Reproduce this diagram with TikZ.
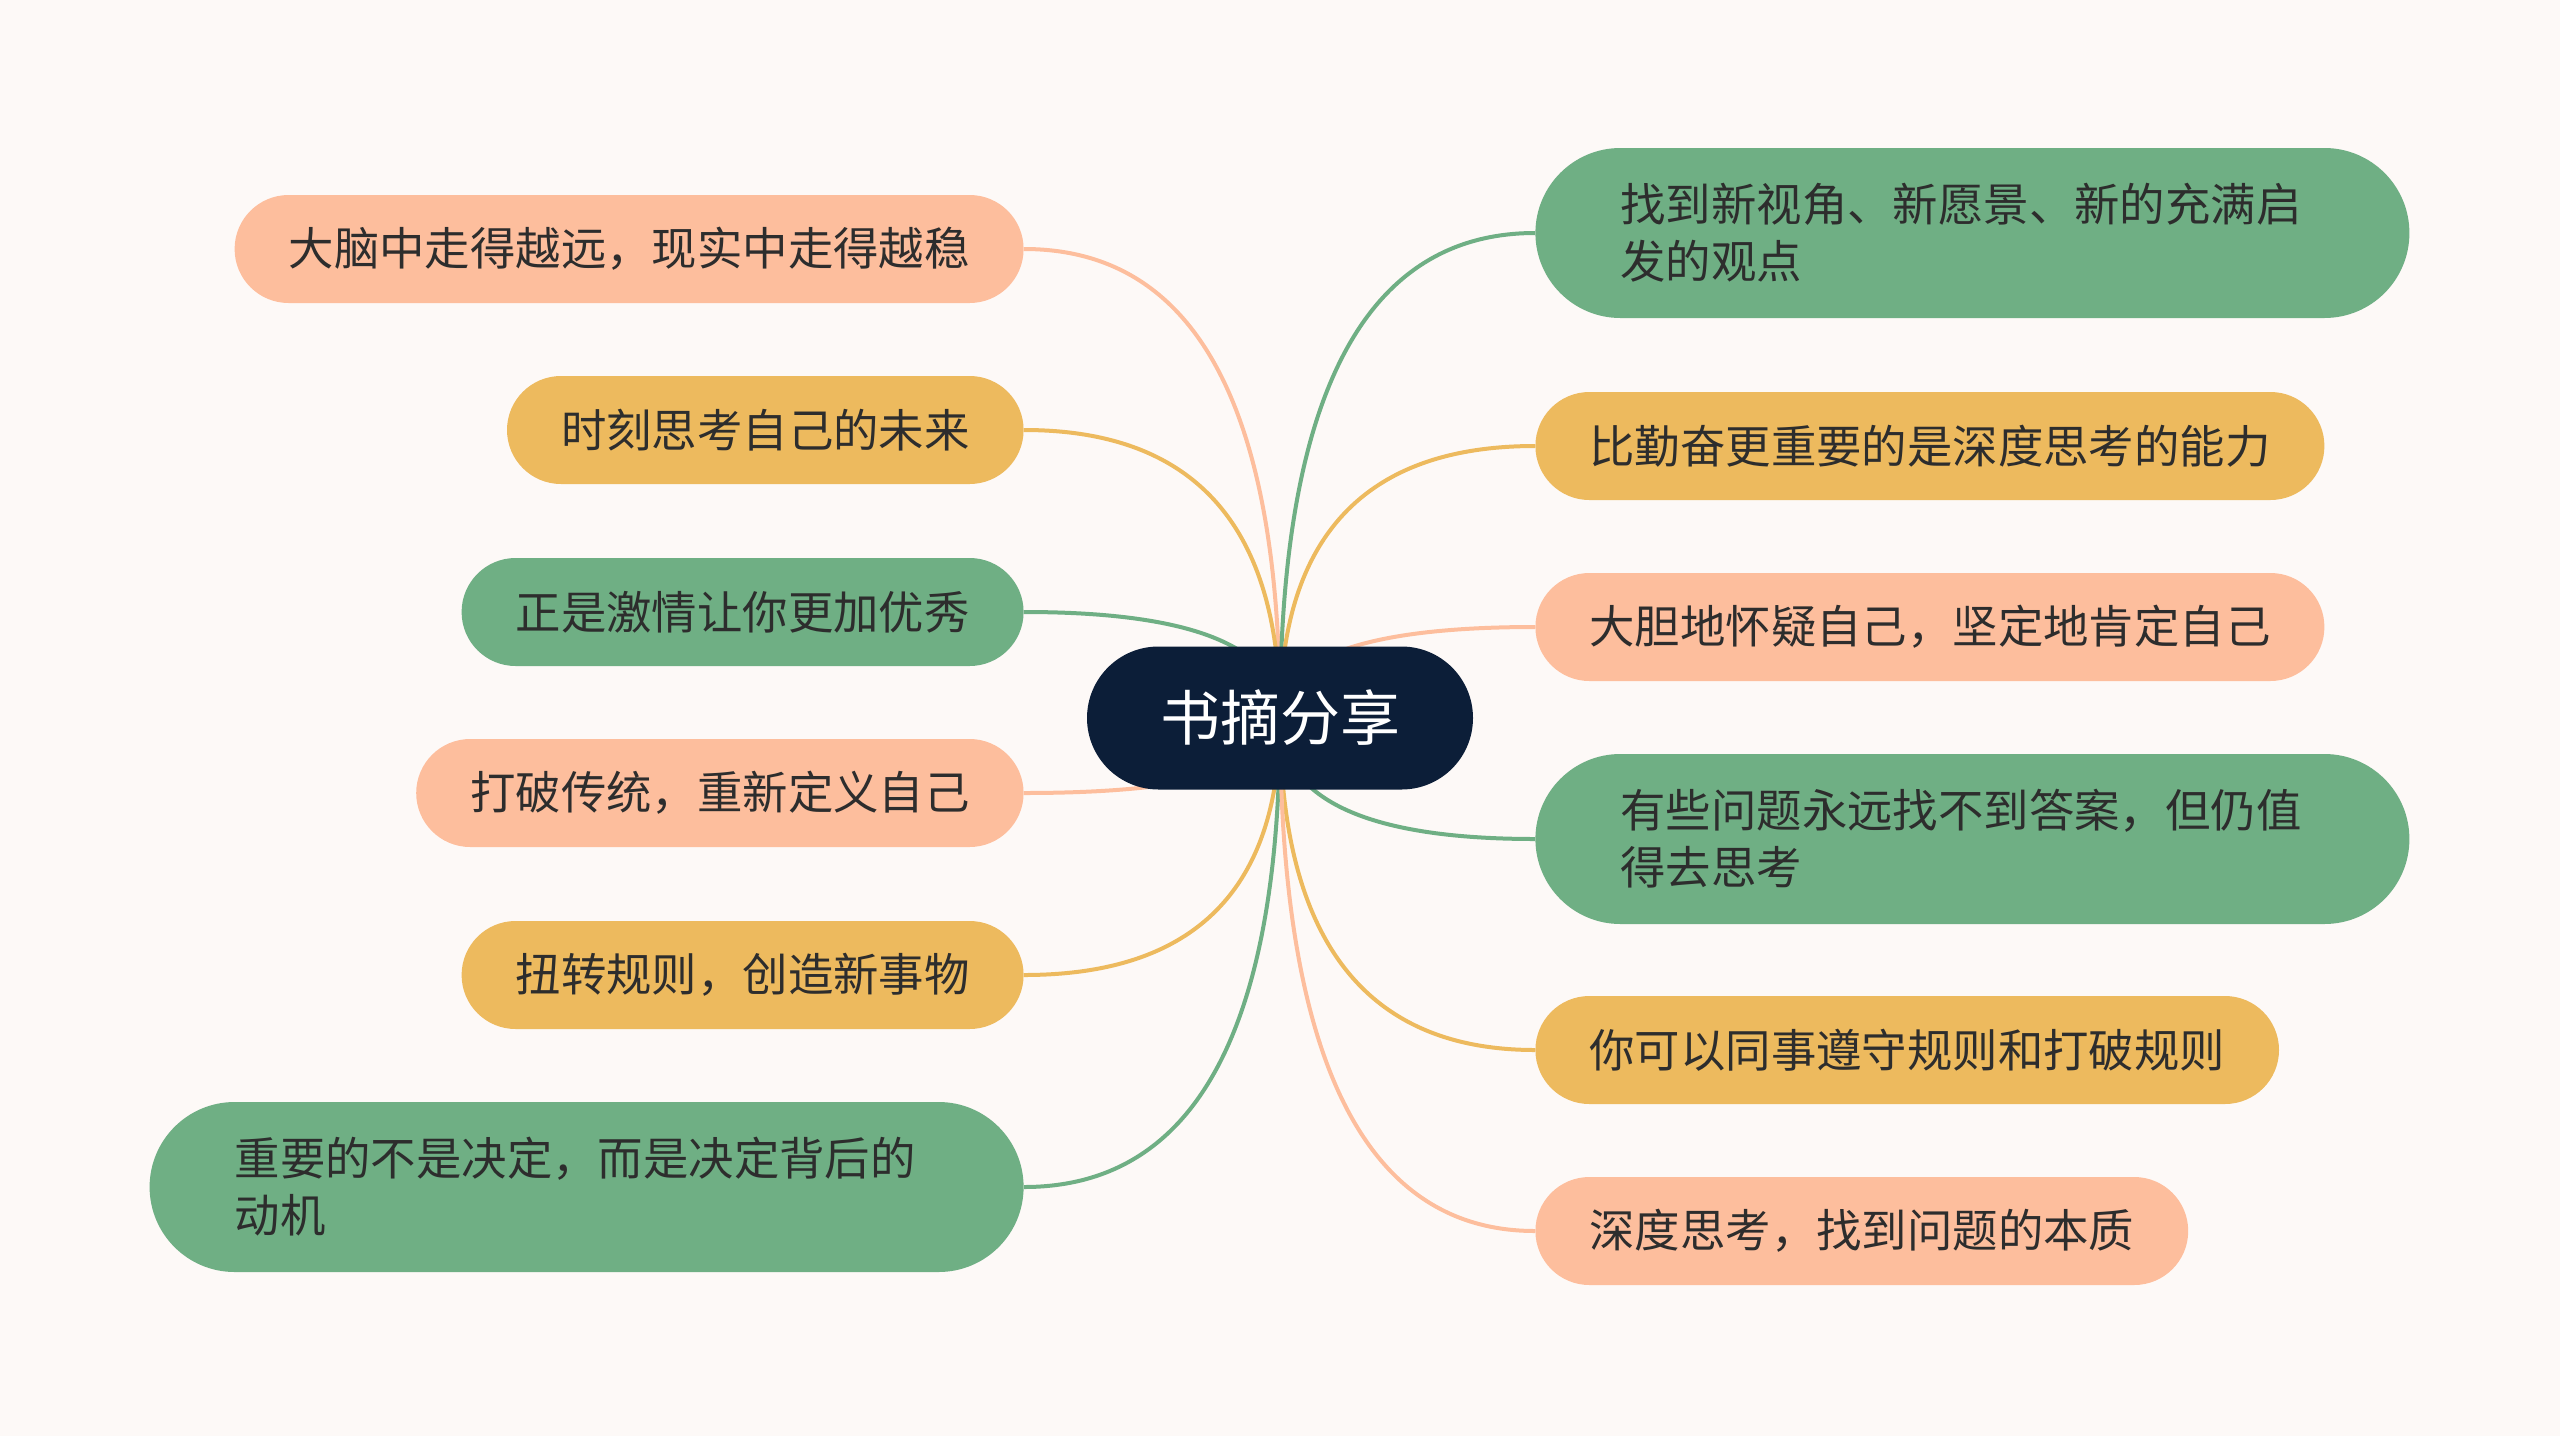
\documentclass[tikz,border=0pt]{standalone}
\usepackage{fontspec}
\setmainfont{Noto Sans CJK SC}
\usetikzlibrary{calc}
\definecolor{bgc}{HTML}{FDF9F7}
\definecolor{pinkc}{HTML}{FDBE9D}
\definecolor{goldc}{HTML}{EDBA5E}
\definecolor{greenc}{HTML}{6FAF84}
\definecolor{rootc}{HTML}{0C1E38}
\definecolor{txtc}{HTML}{2D2D2D}
\pgfdeclarelayer{bg}
\pgfdeclarelayer{lines}
\pgfsetlayers{bg,lines,main}
\tikzset{
  leaf/.style={inner xsep=27pt, inner ysep=0pt, minimum height=54pt,
    rounded corners=27pt, text=txtc, font=\fontsize{22.7pt}{28.5pt}\selectfont},
  leaftwo/.style={leaf, text width=352pt, align=left, inner xsep=42.5pt,
    minimum height=85pt, rounded corners=42.5pt},
  rootbox/.style={fill=rootc, text=white, minimum width=193pt, minimum height=71.5pt,
    rounded corners=35.75pt, inner sep=0pt, font=\fontsize{30pt}{36pt}\selectfont},
  conn/.style={line width=2pt},
}
\newcommand{\mmlink}[2]{%
  \draw[conn,#2] (R.center) .. controls ($(R.center)!2/3!(R.center |- #1)$) and ($(#1)!2/3!(R.center |- #1)$) .. (#1);}
\begin{document}
\begin{tikzpicture}[x=0.5pt,y=-0.5pt]
\useasboundingbox (0,0) rectangle (2560,1436);
\begin{pgfonlayer}{bg}
  \fill[bgc] (0,0) rectangle (2560,1436);
\end{pgfonlayer}

\node[rootbox] (R) at (1280,718) {书摘分享};

% left
\node[leaf, fill=pinkc, anchor=east] (L1) at (1024,249) {大脑中走得越远，现实中走得越稳};
\node[leaf, fill=goldc, anchor=east] (L2) at (1024,430) {时刻思考自己的未来};
\node[leaf, fill=greenc, anchor=east] (L3) at (1024,612) {正是激情让你更加优秀};
\node[leaf, fill=pinkc, anchor=east] (L4) at (1024,793) {打破传统，重新定义自己};
\node[leaf, fill=goldc, anchor=east] (L5) at (1024,975) {扭转规则，创造新事物};
\node[leaftwo, fill=greenc, anchor=east] (L6) at (1024,1187) {重要的不是决定，而是决定背后的\\动机};

% right
\node[leaftwo, fill=greenc, anchor=west] (R1) at (1535,233) {找到新视角、新愿景、新的充满启\\发的观点};
\node[leaf, fill=goldc, anchor=west] (R2) at (1535,446) {比勤奋更重要的是深度思考的能力};
\node[leaf, fill=pinkc, anchor=west] (R3) at (1535,627) {大胆地怀疑自己，坚定地肯定自己};
\node[leaftwo, fill=greenc, anchor=west] (R4) at (1535,839) {有些问题永远找不到答案，但仍值\\得去思考};
\node[leaf, fill=goldc, anchor=west] (R5) at (1535,1050) {你可以同事遵守规则和打破规则};
\node[leaf, fill=pinkc, anchor=west] (R6) at (1535,1231) {深度思考，找到问题的本质};

\begin{pgfonlayer}{lines}
  \mmlink{L1.east}{pinkc}
  \mmlink{L2.east}{goldc}
  \mmlink{L3.east}{greenc}
  \mmlink{L4.east}{pinkc}
  \mmlink{L5.east}{goldc}
  \mmlink{L6.east}{greenc}
  \mmlink{R1.west}{greenc}
  \mmlink{R2.west}{goldc}
  \mmlink{R3.west}{pinkc}
  \mmlink{R4.west}{greenc}
  \mmlink{R5.west}{goldc}
  \mmlink{R6.west}{pinkc}
\end{pgfonlayer}
\end{tikzpicture}
\end{document}
